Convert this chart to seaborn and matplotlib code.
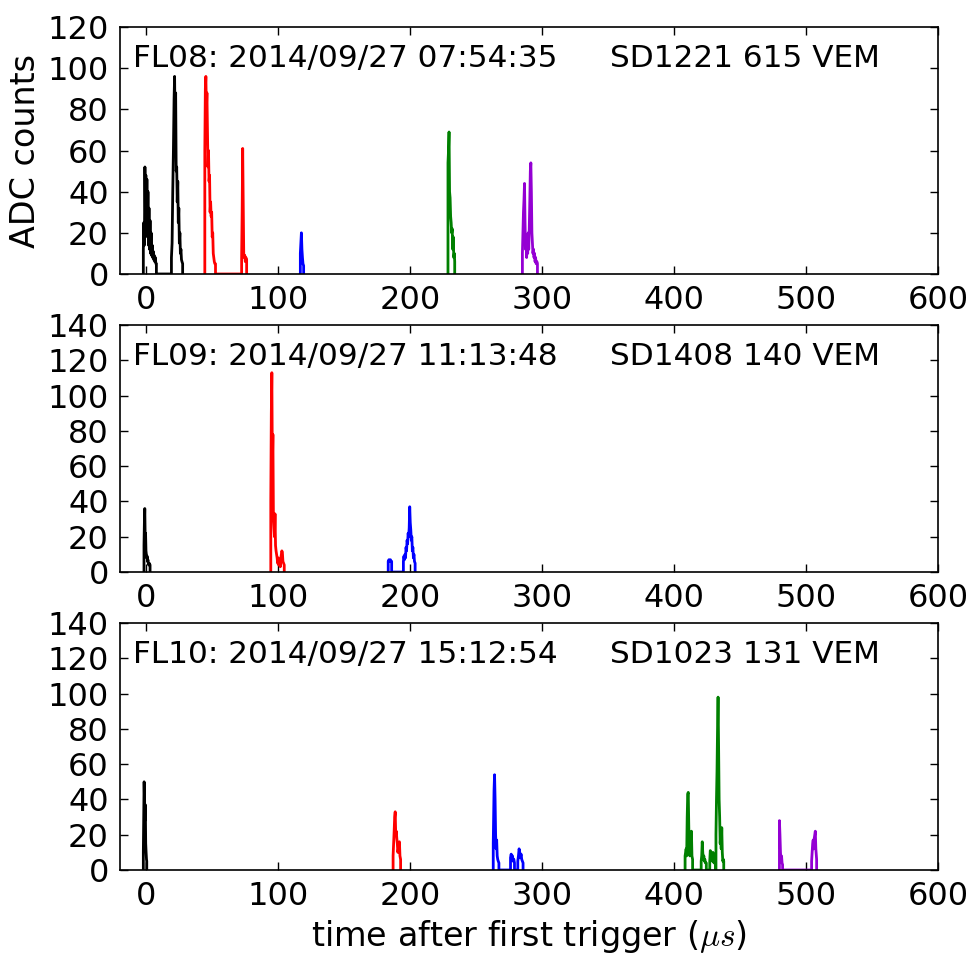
import numpy as np
import pandas as pd
import matplotlib
matplotlib.use("Agg")
import matplotlib.pyplot as plt
import seaborn as sns

# ---------------- data ----------------
# FL08 panel
fl08_black_t = [-2.3, -2.3, -1.9, -1.5, -1.1, -0.7, -0.4, 0.0, 0.4, 0.8, 1.2, 1.6, 2.0, 2.4, 2.8, 3.2, 3.6, 4.0, 4.4, 4.8, 5.2, 5.6, 6.0, 6.4, 6.8, 7.2, 7.6, 7.6,
                19.0, 19.0, 19.5, 20.0, 20.5, 21.0, 21.4, 21.8, 22.2, 22.6, 23.0, 23.4, 23.8, 24.2, 24.6, 25.0, 25.4, 25.8, 26.2, 26.6, 27.0, 27.5, 27.5]
fl08_black_v = [0, 12, 25, 14, 52, 28, 48, 22, 46, 18, 40, 14, 32, 12, 26, 10, 20, 9, 14, 8, 11, 7, 9, 6, 8, 5, 5, 0,
                0, 8, 15, 40, 60, 85, 96, 70, 88, 50, 52, 35, 45, 25, 32, 15, 20, 10, 12, 7, 6, 5, 0]
fl08_red_t = [44.3, 44.3, 44.7, 45.1, 45.5, 45.9, 46.3, 46.7, 47.1, 47.5, 47.9, 48.3, 48.7, 49.1, 49.5, 49.9, 50.3, 50.7, 51.1, 51.5, 51.9, 52.4, 52.4,
              72.2, 72.2, 72.6, 73.0, 73.4, 73.8, 74.2, 74.6, 75.0, 75.4, 76.0, 76.0]
fl08_red_v = [0, 60, 90, 96, 80, 88, 70, 52, 60, 45, 48, 30, 35, 28, 30, 18, 20, 10, 8, 6, 5, 5, 0,
              0, 8, 30, 61, 35, 10, 8, 9, 6, 8, 7, 0]
fl08_blue_t = [116.7, 116.7, 117.1, 117.5, 117.9, 118.3, 118.7, 119.2, 119.2]
fl08_blue_v = [0, 10, 15, 20, 12, 8, 5, 4, 0]
fl08_green_t = [228.6, 228.6, 229.0, 229.4, 229.8, 230.2, 230.6, 231.0, 231.4, 231.8, 232.2, 232.6, 233.0, 233.4, 233.7, 233.7]
fl08_green_v = [0, 54, 60, 69, 40, 37, 28, 25, 20, 22, 12, 18, 8, 10, 6, 0]
fl08_purple_t = [285.0, 285.0, 285.4, 285.8, 286.2, 286.6, 287.0, 287.4, 287.8, 288.2, 288.6, 289.0, 289.4, 289.8, 290.2, 290.6,
                 291.0, 291.4, 291.8, 292.2, 292.6, 293.0, 293.4, 293.8, 294.2, 294.6, 295.0, 295.4, 296.0, 296.4, 296.4]
fl08_purple_v = [0, 10, 20, 30, 36, 44, 25, 12, 18, 8, 15, 10, 20, 12, 22, 35,
                 50, 54, 40, 20, 15, 10, 12, 8, 10, 6, 8, 5, 6, 5, 0]

# FL09 panel
fl09_black_t = [-1.8, -1.8, -1.5, -1.2, -0.9, -0.6, -0.3, 0.0, 0.3, 0.6, 0.9, 1.2, 1.5, 1.8, 2.2, 2.8, 2.8]
fl09_black_v = [0, 15, 28, 36, 20, 22, 12, 10, 8, 9, 6, 7, 5, 4, 5, 4, 0]
fl09_red_t = [94.3, 94.3, 94.7, 95.1, 95.5, 95.9, 96.3, 96.7, 97.1, 97.5, 97.9, 98.3, 98.7, 99.1, 99.5, 99.9,
              100.3, 100.7, 101.1, 101.5, 101.9, 102.3, 102.7, 103.1, 103.5, 104.0, 104.5, 104.5]
fl09_red_v = [0, 40, 90, 113, 60, 78, 30, 25, 20, 33, 15, 12, 10, 8, 5, 8,
              4, 6, 5, 3, 8, 10, 12, 11, 6, 5, 4, 0]
fl09_blue_t = [183.3, 183.3, 183.8, 184.4, 185.0, 185.5, 185.9, 185.9,
               194.8, 194.8, 195.2, 195.6, 196.0, 196.4, 196.8, 197.2, 197.6, 198.0, 198.4, 198.8, 199.2, 199.6,
               200.0, 200.4, 200.8, 201.2, 201.6, 202.0, 202.4, 202.8, 203.2, 203.7, 203.7]
fl09_blue_v = [0, 6, 7, 6, 7, 6, 6, 0,
               0, 6, 9, 7, 10, 8, 14, 12, 18, 16, 22, 20, 25, 37,
               28, 24, 18, 20, 12, 14, 8, 10, 6, 5, 0]

# FL10 panel
fl10_black_t = [-2.3, -2.3, -2.0, -1.7, -1.4, -1.1, -0.8, -0.5, -0.2, 0.1, 0.3, 0.3]
fl10_black_v = [0, 10, 30, 50, 40, 28, 37, 15, 10, 6, 5, 0]
fl10_red_t = [187.0, 187.0, 187.4, 187.8, 188.2, 188.6, 189.0, 189.4, 189.8, 190.2, 190.6, 191.0, 191.4, 191.8, 192.2, 192.7, 192.7]
fl10_red_v = [0, 8, 15, 22, 30, 33, 20, 22, 18, 15, 10, 12, 15, 16, 8, 6, 0]
fl10_blue_t = [262.9, 262.9, 263.2, 263.5, 263.9, 264.3, 264.7, 265.1, 265.5, 265.9, 266.3, 266.7, 267.2, 267.2,
               276.0, 276.0, 276.5, 277.0, 277.5, 278.0, 278.5, 279.0, 279.0,
               281.5, 281.5, 282.0, 282.5, 283.0, 283.5, 284.0, 284.5, 285.0, 285.5, 285.5]
fl10_blue_v = [0, 15, 30, 45, 54, 40, 20, 12, 17, 8, 6, 5, 4, 0,
               0, 7, 9, 6, 8, 5, 6, 4, 0,
               0, 5, 8, 12, 10, 7, 9, 6, 5, 4, 0]
fl10_green_t = [408.3, 408.3, 408.7, 409.1, 409.5, 409.9, 410.3, 410.7, 411.1, 411.5, 411.9, 412.3, 412.7, 413.1, 413.5, 414.0, 414.0,
                420.5, 420.5, 420.9, 421.3, 421.7, 422.1, 422.5, 422.9, 423.3, 423.7, 424.4, 424.4,
                427.0, 427.0, 427.4, 427.8, 428.2, 428.6, 429.0, 429.4, 429.8, 430.2, 430.6, 431.0, 431.3, 431.3,
                431.7, 431.7, 432.1, 432.5, 432.9, 433.3, 433.7, 434.1, 434.5, 434.9, 435.3, 435.7, 436.1, 436.5, 436.9, 437.3, 437.6, 437.6]
fl10_green_v = [0, 8, 10, 12, 8, 30, 43, 44, 25, 10, 8, 12, 20, 22, 8, 6, 0,
                0, 5, 8, 16, 10, 6, 8, 5, 6, 4, 4, 0,
                0, 5, 11, 9, 6, 8, 5, 10, 6, 4, 5, 4, 4, 0,
                0, 20, 40, 56, 80, 98, 70, 40, 30, 15, 20, 12, 24, 10, 5, 6, 5, 0]
fl10_purple_t = [479.8, 479.8, 480.2, 480.6, 481.0, 481.4, 481.8, 482.2, 482.2,
                 504.2, 504.2, 504.6, 505.0, 505.4, 505.8, 506.2, 506.6, 507.0, 507.4, 508.0, 508.0]
fl10_purple_v = [0, 28, 20, 10, 5, 8, 4, 3, 0,
                 0, 5, 10, 15, 17, 12, 18, 20, 22, 12, 6, 0]

event_labels = ["FL08: 2014/09/27 07:54:35", "FL09: 2014/09/27 11:13:48", "FL10: 2014/09/27 15:12:54"]
station_labels = ["SD1221 615 VEM", "SD1408 140 VEM", "SD1023 131 VEM"]
y_tops = [120, 140, 140]
x_ticks = [0, 100, 200, 300, 400, 500, 600]

panels = [
    [(fl08_black_t, fl08_black_v, "black"), (fl08_red_t, fl08_red_v, "red"), (fl08_blue_t, fl08_blue_v, "blue"),
     (fl08_green_t, fl08_green_v, "green"), (fl08_purple_t, fl08_purple_v, "darkviolet")],
    [(fl09_black_t, fl09_black_v, "black"), (fl09_red_t, fl09_red_v, "red"), (fl09_blue_t, fl09_blue_v, "blue")],
    [(fl10_black_t, fl10_black_v, "black"), (fl10_red_t, fl10_red_v, "red"), (fl10_blue_t, fl10_blue_v, "blue"),
     (fl10_green_t, fl10_green_v, "green"), (fl10_purple_t, fl10_purple_v, "darkviolet")],
]

# ---------------- style ----------------
sns.set_style("ticks")
plt.rcParams["font.family"] = ["DejaVu Sans"]
plt.rcParams["mathtext.fontset"] = "cm"
plt.rcParams["axes.linewidth"] = 1.2
for k in ["text.color", "axes.labelcolor", "xtick.color", "ytick.color", "axes.edgecolor"]:
    plt.rcParams[k] = "black"

fig = plt.figure(figsize=(9.77, 9.55), dpi=100)
left, width, height = 0.1228, 0.8373, 0.2586
bottoms = [0.7131, 0.4010, 0.0890]

for i, traces in enumerate(panels):
    ax = fig.add_axes([left, bottoms[i], width, height])
    for t, v, c in traces:
        df = pd.DataFrame({"t": t, "v": v})
        sns.lineplot(data=df, x="t", y="v", color=c, sort=False, estimator=None,
                     linewidth=2.0, ax=ax)
    ax.set_xlim(-20, 600)
    ax.set_ylim(0, y_tops[i])
    ax.set_xticks(x_ticks)
    ax.set_yticks(np.arange(0, y_tops[i] + 1, 20))
    ax.tick_params(direction="in", top=True, right=True, length=6, width=1,
                   labelsize=23, pad=8, colors="black")
    ax.set_xlabel("")
    ax.set_ylabel("")
    ax.text(0.016, 0.84, event_labels[i], transform=ax.transAxes, fontsize=22.4,
            va="baseline", ha="left", color="black")
    ax.text(0.599, 0.84, station_labels[i], transform=ax.transAxes, fontsize=22.4,
            va="baseline", ha="left", color="black")
    if i == 0:
        ax.set_ylabel("ADC counts", fontsize=24, color="black")
    if i == 2:
        ax.set_xlabel(r"time after first trigger ($\mu s$)", fontsize=24, color="black")

fig.savefig("out.png", dpi=100)
